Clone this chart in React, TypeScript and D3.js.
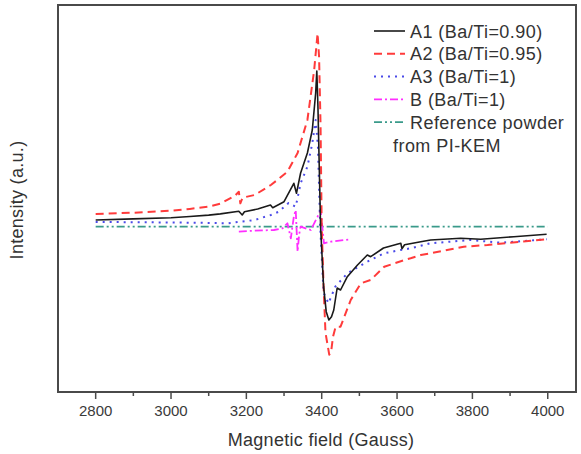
import React from "react";
import * as d3 from "d3";

// Magnetic field (Gauss) and intensity (a.u.) for each sample
const a1Field = [2800, 2900, 3000, 3050, 3100, 3131, 3180, 3189, 3195, 3230, 3264, 3270, 3300, 3326, 3333, 3344, 3362, 3375, 3384, 3387, 3390, 3397, 3405, 3412, 3419, 3426, 3432, 3441, 3450, 3468, 3495, 3521, 3530, 3564, 3600, 3610, 3613, 3620, 3663, 3689, 3769, 3822, 3910, 3997];
const a1Int = [6.7, 7.8, 9.0, 10.2, 11.6, 12.8, 15.4, 11.7, 15, 17.7, 21.7, 19, 25, 43.4, 33.4, 53.7, 73.7, 96.7, 133.7, 155.7, 120, 0, -60, -85, -93.3, -90, -83.3, -61.3, -63.3, -50, -38.3, -28.3, -30, -21.3, -17.5, -16.6, -22, -18, -15, -13.3, -11.6, -12.6, -10, -7.6];

const a2Field = [2800, 2900, 3000, 3050, 3100, 3131, 3170, 3180, 3184, 3190, 3222, 3265, 3282, 3309, 3336, 3362, 3380, 3389, 3393, 3397, 3400, 3405, 3410, 3420, 3425, 3430, 3437, 3450, 3477, 3504, 3530, 3566, 3620, 3636, 3663, 3689, 3777, 3840, 3928, 3997];
const a2Int = [12.7, 14, 16, 17.8, 20, 23, 31, 35, 23.4, 29, 31.7, 41.7, 46.7, 55, 73.7, 106.7, 156.7, 193.4, 170, 100, 0, -60, -106, -128, -125, -110, -100, -100, -73.3, -56.6, -53.3, -40, -33.3, -31.6, -28.3, -26.6, -20, -18.3, -15, -12.6];

const a3Field = [2800, 2900, 3000, 3100, 3150, 3222, 3265, 3286, 3312, 3331, 3344, 3362, 3375, 3384, 3390, 3396, 3405, 3418, 3436, 3468, 3521, 3565, 3609, 3636, 3689, 3795, 3875, 3997];
const a3Int = [4.7, 4.5, 4.2, 3.8, 3.4, 6.7, 11.7, 15, 23.7, 20, 43.4, 60, 83.4, 106.7, 80, 0, -66, -76.6, -60, -46.6, -35, -26.6, -23.3, -21.6, -16.6, -13.3, -16, -12.6];

const bField = [3180, 3220, 3273, 3296, 3309, 3318, 3326, 3331, 3336, 3340, 3344, 3371, 3389, 3397, 3406, 3424, 3477];
const bInt = [-5, -4, -3.3, -1.6, 3.4, -11.6, 10, 16.7, -25, -8, 0, -3.3, 10, 16.7, -16.6, -15, -12.6];

const refField = [2800, 4000];
const refInt = [0, 0];

const xTicks = [2800, 3000, 3200, 3400, 3600, 3800, 4000];
const xMinorTicks = [2900, 3100, 3300, 3500, 3700, 3900];

const legendLabels = ["A1 (Ba/Ti=0.90)", "A2 (Ba/Ti=0.95)", "A3 (Ba/Ti=1)", "B (Ba/Ti=1)", "Reference powder"];

const W = 581;
const H = 454;
const left = 58;
const right = 576;
const top = 5;
const bottom = 392;

export default function App() {
  const x = d3.scaleLinear().domain([2700, 4075]).range([left, right]);
  const y = d3.scaleLinear().domain([-165.3, 221.7]).range([bottom, top]);
  const line = d3
    .line<[number, number]>()
    .x((d) => x(d[0]))
    .y((d) => y(d[1]));
  const zip = (a: number[], b: number[]) => a.map((v, i) => [v, b[i]] as [number, number]);

  const series = [
    { f: a1Field, v: a1Int, color: "#1a1a1a", dash: "none", w: 1.6 },
    { f: a2Field, v: a2Int, color: "#ff3b3b", dash: "8,5", w: 2 },
    { f: a3Field, v: a3Int, color: "#4a4ae8", dash: "2,5", w: 2 },
    { f: bField, v: bInt, color: "#ff2eff", dash: "8,3,2,3", w: 1.8 },
    { f: refField, v: refInt, color: "#3a9a8a", dash: "8,3,2,3,2,3", w: 1.8 },
  ];
  // draw order: reference, B, A3, A2, A1 on top
  const drawOrder = [4, 3, 2, 1, 0];

  const legendY0 = 31;
  const legendStep = 22.8;
  const font = "'Liberation Sans', Arial, sans-serif";

  return (
    <svg width={W} height={H} style={{ position: "absolute", left: 0, top: 0, background: "#fff" }}>
      <rect x={0} y={0} width={W} height={H} fill="#fff" />
      {drawOrder.map((i) => {
        const s = series[i];
        return (
          <path
            key={i}
            d={line(zip(s.f, s.v)) || ""}
            fill="none"
            stroke={s.color}
            strokeWidth={s.w}
            strokeDasharray={s.dash}
            strokeLinejoin="round"
          />
        );
      })}
      {/* frame */}
      <rect x={left} y={top} width={right - left} height={bottom - top} fill="none" stroke="#4a4a4a" strokeWidth={2} />
      {/* ticks */}
      {xTicks.map((t) => (
        <g key={t}>
          <line x1={x(t)} x2={x(t)} y1={bottom} y2={bottom + 7} stroke="#4a4a4a" strokeWidth={1.5} />
          <text x={x(t)} y={416} textAnchor="middle" fontFamily={font} fontSize={15} fill="#3a3a3a">
            {t}
          </text>
        </g>
      ))}
      {xMinorTicks.map((t) => (
        <line key={t} x1={x(t)} x2={x(t)} y1={bottom} y2={bottom + 4} stroke="#4a4a4a" strokeWidth={1.5} />
      ))}
      <text x={(left + right) / 2 + 4} y={446} textAnchor="middle" fontFamily={font} fontSize={18} letterSpacing={0.3} fill="#333">
        Magnetic field (Gauss)
      </text>
      <text
        transform={`translate(23,200) rotate(-90)`}
        textAnchor="middle"
        fontFamily={font}
        fontSize={18}
        letterSpacing={0.3}
        fill="#333"
      >
        Intensity (a.u.)
      </text>
      {/* legend */}
      {legendLabels.map((lab, i) => {
        const s = series[i];
        const ly = legendY0 + i * legendStep;
        return (
          <g key={lab}>
            <line x1={374} x2={405} y1={ly} y2={ly} stroke={s.color} strokeWidth={s.w} strokeDasharray={s.dash} />
            <text x={410} y={ly + 6.5} fontFamily={font} fontSize={18} letterSpacing={0.45} fill="#333">
              {lab}
            </text>
          </g>
        );
      })}
      <text x={393} y={legendY0 + 5 * legendStep + 6.5} fontFamily={font} fontSize={18} letterSpacing={0.45} fill="#333">
        from PI-KEM
      </text>
    </svg>
  );
}
